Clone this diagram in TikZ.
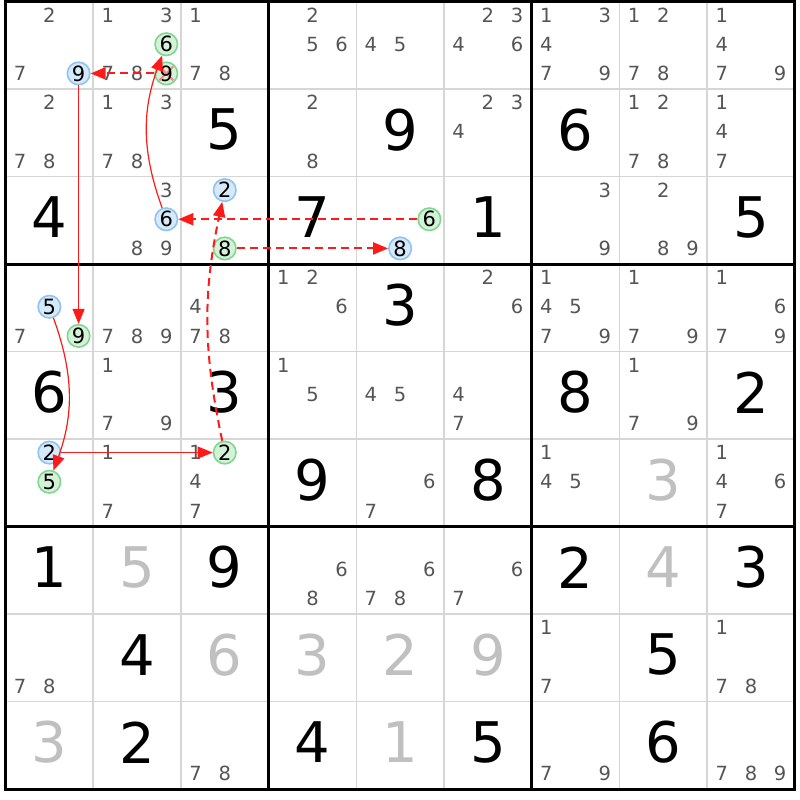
\documentclass[tikz,border=0pt]{standalone}
\usepackage{fontspec}
\setmainfont{DejaVu Sans}
\usetikzlibrary{arrows.meta}
\definecolor{candc}{HTML}{555555}
\definecolor{solvc}{HTML}{C0C0C0}
\definecolor{thinc}{HTML}{D6D6D6}
\definecolor{bluef}{HTML}{D6E9FB}
\definecolor{blued}{HTML}{8EC3F2}
\definecolor{greenf}{HTML}{D5F2D9}
\definecolor{greend}{HTML}{7FD78F}
\definecolor{linkc}{HTML}{FF1A1A}
\tikzset{
  cand/.style={font=\fontsize{19.5}{19.5}\selectfont, text=candc, inner sep=0pt},
  given/.style={font=\fontsize{56}{56}\selectfont, text=black, inner sep=0pt},
  solved/.style={given, text=solvc},
  bring/.style={circle, draw=blued, fill=bluef, line width=1.6pt, minimum size=22.5pt, inner sep=0pt, font=\fontsize{21}{21}\selectfont, text=black},
  gring/.style={bring, draw=greend, fill=greenf},
  xring/.style={gring, path picture={\draw[linkc, opacity=0.45, line width=2pt]
     ([shift={(-7pt,-7pt)}]path picture bounding box.center) -- ([shift={(7pt,7pt)}]path picture bounding box.center)
     ([shift={(-7pt,7pt)}]path picture bounding box.center) -- ([shift={(7pt,-7pt)}]path picture bounding box.center);}},
  slink/.style={draw=linkc, line width=1.2pt, -{Triangle[length=15pt,width=12pt]}},
  wlink/.style={slink, line width=2pt, dash pattern=on 8pt off 5pt},
  thinline/.style={draw=thinc, line width=1.5pt},
  thickline/.style={draw=black, line width=3pt}
}
\newcommand\givd[4]{\node[#4] (v#1#2) at ({5.5+87.7*(#2-0.5)},{1.5+87.5*(#1-0.5)-3}) {#3};}
\newcommand\cands[3]{\foreach \d in {#3}{%
  \pgfmathsetmacro\px{5.5+87.7*(#2-1)+87.7*(mod(\d-1,3)*2+1)/6}%
  \pgfmathsetmacro\py{1.5+87.5*(#1-1)+87.5*(int((\d-1)/3)*2+1)/6-1}%
  \node[cand] (c#1#2\d) at (\px,\py) {\d};}}
\newcommand\ringd[5]{%
  \pgfmathsetmacro\px{5.5+87.7*(#2-1)+87.7*(mod(#3-1,3)*2+1)/6}%
  \pgfmathsetmacro\py{1.5+87.5*(#1-1)+87.5*(int((#3-1)/3)*2+1)/6-1}%
  \node[#4] (#5) at (\px,\py) {#3};}
\begin{document}
\begin{tikzpicture}[x=1pt,y=-1pt]
\useasboundingbox[fill=white] (0,0) rectangle (800,800);
% grid
\foreach \i in {1,2,4,5,7,8}{
  \draw[thinline] ({5.5+87.7*\i},1.5) -- ({5.5+87.7*\i},789);
  \draw[thinline] (5.5,{1.5+87.5*\i}) -- (794.8,{1.5+87.5*\i});}
\foreach \i in {0,3,6,9}{
  \draw[thickline] ({5.5+87.7*\i},0) -- ({5.5+87.7*\i},790.5);
  \draw[thickline] (4,{1.5+87.5*\i}) -- (796.3,{1.5+87.5*\i});}
% row 1
\cands{1}{1}{2,7}\cands{1}{2}{1,3,7,8}\cands{1}{3}{1,7,8}\cands{1}{4}{2,5,6}\cands{1}{5}{4,5}
\cands{1}{6}{2,3,4,6}\cands{1}{7}{1,3,4,7,9}\cands{1}{8}{1,2,7,8}\cands{1}{9}{1,4,7,9}
% row 2
\cands{2}{1}{2,7,8}\cands{2}{2}{1,3,7,8}\givd{2}{3}{5}{given}\cands{2}{4}{2,8}\givd{2}{5}{9}{given}
\cands{2}{6}{2,3,4}\givd{2}{7}{6}{given}\cands{2}{8}{1,2,7,8}\cands{2}{9}{1,4,7}
% row 3
\givd{3}{1}{4}{given}\cands{3}{2}{3,8,9}\givd{3}{4}{7}{given}\givd{3}{6}{1}{given}
\cands{3}{7}{3,9}\cands{3}{8}{2,8,9}\givd{3}{9}{5}{given}
% row 4
\cands{4}{1}{7}\cands{4}{2}{7,8,9}\cands{4}{3}{4,7,8}\cands{4}{4}{1,2,6}\givd{4}{5}{3}{given}
\cands{4}{6}{2,6}\cands{4}{7}{1,4,5,7,9}\cands{4}{8}{1,7,9}\cands{4}{9}{1,6,7,9}
% row 5
\givd{5}{1}{6}{given}\cands{5}{2}{1,7,9}\givd{5}{3}{3}{given}\cands{5}{4}{1,5}\cands{5}{5}{4,5}
\cands{5}{6}{4,7}\givd{5}{7}{8}{given}\cands{5}{8}{1,7,9}\givd{5}{9}{2}{given}
% row 6
\cands{6}{2}{1,7}\cands{6}{3}{1,4,7}\givd{6}{4}{9}{given}\cands{6}{5}{6,7}\givd{6}{6}{8}{given}
\cands{6}{7}{1,4,5}\givd{6}{8}{3}{solved}\cands{6}{9}{1,4,6,7}
% row 7
\givd{7}{1}{1}{given}\givd{7}{2}{5}{solved}\givd{7}{3}{9}{given}\cands{7}{4}{6,8}\cands{7}{5}{6,7,8}
\cands{7}{6}{6,7}\givd{7}{7}{2}{given}\givd{7}{8}{4}{solved}\givd{7}{9}{3}{given}
% row 8
\cands{8}{1}{7,8}\givd{8}{2}{4}{given}\givd{8}{3}{6}{solved}\givd{8}{4}{3}{solved}\givd{8}{5}{2}{solved}
\givd{8}{6}{9}{solved}\cands{8}{7}{1,7}\givd{8}{8}{5}{given}\cands{8}{9}{1,7,8}
% row 9
\givd{9}{1}{3}{solved}\givd{9}{2}{2}{given}\cands{9}{3}{7,8}\givd{9}{4}{4}{given}\givd{9}{5}{1}{solved}
\givd{9}{6}{5}{given}\cands{9}{7}{7,9}\givd{9}{8}{6}{given}\cands{9}{9}{7,8,9}
% marked candidates
\ringd{1}{1}{9}{bring}{b119}
\ringd{1}{2}{6}{gring}{g126}
\ringd{1}{2}{9}{xring}{g129}
\ringd{3}{2}{6}{bring}{b326}
\ringd{3}{3}{2}{bring}{b332}
\ringd{3}{3}{8}{gring}{g338}
\ringd{3}{5}{6}{gring}{g356}
\ringd{3}{5}{8}{bring}{b358}
\ringd{4}{1}{5}{bring}{b415}
\ringd{4}{1}{9}{gring}{g419}
\ringd{6}{1}{2}{bring}{b612}
\ringd{6}{1}{5}{gring}{g615}
\ringd{6}{3}{2}{gring}{g632}
% chain
\draw[wlink] (g356) -- (b326);
\draw[slink] (b326) to[bend left=20] (g126);
\draw[wlink] (g129) -- (b119);
\draw[slink] (b119) -- (g419);
\draw[slink] (b415) to[bend left=20] (g615);
\draw[slink] (b612) -- (g632);
\draw[wlink] (g632) to[bend left=12] (b332);
\draw[wlink] (g338) -- (b358);
\end{tikzpicture}
\end{document}
